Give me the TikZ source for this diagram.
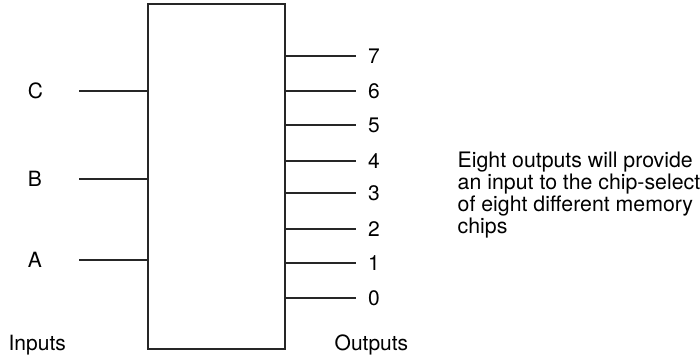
\documentclass[tikz,border=0pt]{standalone}
\usepackage{fontspec}
\setmainfont{TeX Gyre Heros}
\begin{document}
\begin{tikzpicture}[x=1pt,y=-1pt,
  lbl/.style={font=\fontsize{21}{22}\selectfont, inner sep=0pt},
  notel/.style={font=\fontsize{21.3}{22.3}\selectfont, inner sep=0pt, anchor=base west},
  wire/.style={line width=1.9pt, draw=black!85},
  chip/.style={draw=black!85, line width=2pt, minimum width=137pt, minimum height=345pt, inner sep=0pt}]
\useasboundingbox (0,0) rectangle (700,356);
\node[chip] (box) at (216.5,176.5) {};
% inputs
\coordinate (inC) at (79,91);
\coordinate (inB) at (79,179);
\coordinate (inA) at (79,260);
\draw[wire] (inC) -- (inC -| box.west);
\draw[wire] (inB) -- (inB -| box.west);
\draw[wire] (inA) -- (inA -| box.west);
\node[lbl] (lC) at (35.5,91) {C};
\node[lbl] (lB) at (35,179) {B};
\node[lbl] (lA) at (35,260) {A};
% outputs
\foreach \i/\y in {7/56,6/91,5/125,4/161,3/193,2/229,1/263,0/298}{
  \coordinate (o\i) at (356,\y);
  \draw[wire] (o\i -| box.east) -- (o\i);
  \node[lbl] (d\i) at (374,\y) {\i};
}
\node[lbl, anchor=base] (inputs) at (37.2,350) {Inputs};
\node[lbl, anchor=base west] (outputs) at (334.5,350) {Outputs};
\node[notel] (note1) at (457.5,167) {Eight outputs will provide};
\node[notel] (note2) at (457.5,189.3) {an input to the chip-select};
\node[notel] (note3) at (457.5,211.6) {of eight different memory};
\node[notel] (note4) at (457.5,233.9) {chips};
\end{tikzpicture}
\end{document}
